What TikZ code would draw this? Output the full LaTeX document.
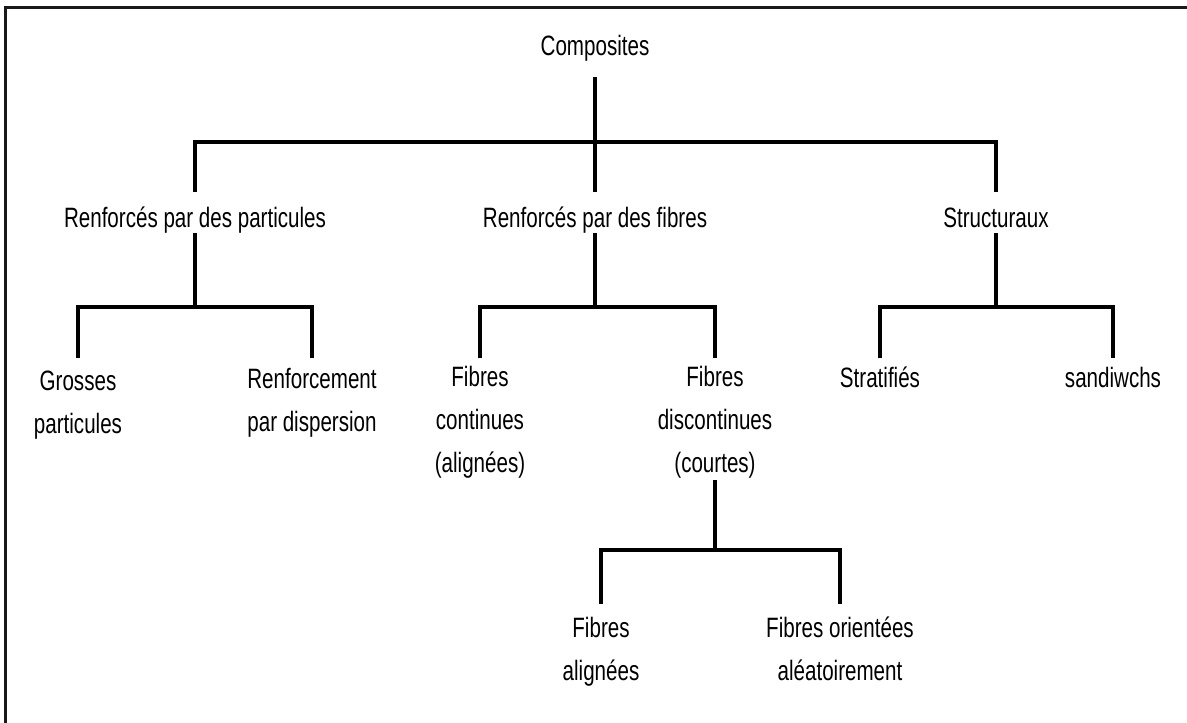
\documentclass[tikz,border=0pt]{standalone}
\usepackage{fontspec}
\setmainfont[FakeStretch=0.735]{Liberation Sans}
\begin{document}
\begin{tikzpicture}[x=1pt,y=-1pt,
  lbl/.style={inner sep=0pt, align=center, font=\fontsize{28}{43}\selectfont, anchor=base},
  conn/.style={line width=3.5pt, line join=miter}]
\useasboundingbox (0,0) rectangle (1187,723);
\draw[line width=3pt, color=black!90] (5,723) -- (5,7) -- (1187,7);
% level coordinates
\coordinate (yA) at (0,77);
\coordinate (yB) at (0,142);
\coordinate (yC) at (0,192);
\coordinate (yD) at (0,233);
\coordinate (yE) at (0,307);
\coordinate (yF) at (0,358);
\coordinate (yG) at (0,480);
\coordinate (yH) at (0,550);
\coordinate (yI) at (0,604);
% nodes
\node[lbl] (comp) at (595,55) {Composites};
\node[lbl] (rpp) at (195,227) {Renforcés par des particules};
\node[lbl] (rpf) at (595,227) {Renforcés par des fibres};
\node[lbl] (str) at (996,227) {Structuraux};
\node[lbl] (gp) at (78,433) {Grosses\\particules};
\node[lbl] (rd) at (312,431) {Renforcement\\par dispersion};
\node[lbl] (fc) at (480,472) {Fibres\\continues\\(alignées)};
\node[lbl] (fd) at (715,472) {Fibres\\discontinues\\(courtes)};
\node[lbl] (strat) at (880,387) {Stratifiés};
\node[lbl] (sand) at (1113,387) {sandiwchs};
\node[lbl] (fa) at (601,680) {Fibres\\alignées};
\node[lbl] (fo) at (840,680) {Fibres orientées\\aléatoirement};
% connectors
\draw[conn] (comp |- yA) -- (rpf |- yC);
\draw[conn] (rpp |- yC) -- (rpp |- yB) -- (str |- yB) -- (str |- yC);
\draw[conn] (rpp |- yD) -- (rpp |- yE);
\draw[conn] (gp |- yF) -- (gp |- yE) -- (rd |- yE) -- (rd |- yF);
\draw[conn] (rpf |- yD) -- (rpf |- yE);
\draw[conn] (fc |- yF) -- (fc |- yE) -- (fd |- yE) -- (fd |- yF);
\draw[conn] (str |- yD) -- (str |- yE);
\draw[conn] (strat |- yF) -- (strat |- yE) -- (sand |- yE) -- (sand |- yF);
\draw[conn] (fd |- yG) -- (fd |- yH);
\draw[conn] (fa |- yI) -- (fa |- yH) -- (fo |- yH) -- (fo |- yI);
\end{tikzpicture}
\end{document}
